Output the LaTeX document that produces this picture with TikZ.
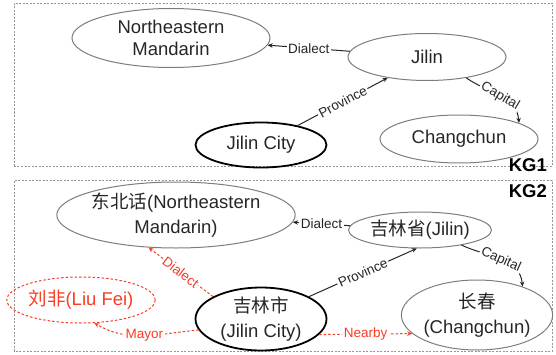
\documentclass[tikz,border=0pt]{standalone}
\usepackage{fontspec}
\setmainfont{Liberation Sans}
\newfontfamily\cjk{Noto Sans CJK SC}
\usetikzlibrary{shapes.geometric,arrows.meta}
\definecolor{linegray}{RGB}{125,125,125}
\definecolor{framegray}{RGB}{150,150,150}
\definecolor{alert}{RGB}{250,60,35}
\newcommand{\zh}[1]{{\cjk #1}}
\tikzstyle{entity}=[ellipse, draw=linegray, line width=1pt, inner sep=0pt, align=center, text=black!85, font=\fontsize{18.5}{22}\selectfont]
\tikzstyle{zhentity}=[entity, font=\fontsize{18.5}{25}\selectfont]
\tikzstyle{focus}=[line width=1.8pt, draw=black]
\tikzstyle{newentity}=[zhentity, draw=alert, text=alert, dash pattern=on 2.5pt off 2pt]
\tikzstyle{rel}=[-{Stealth[length=5pt,width=4.5pt]}, line width=1pt, black!85]
\tikzstyle{newrel}=[rel, alert, dash pattern=on 2.5pt off 2pt]
\tikzstyle{lbl}=[fill=white, inner sep=1.5pt, font=\fontsize{13.5}{15}\selectfont]
\tikzstyle{frame}=[framegray, dash pattern=on 2pt off 1.5pt, line width=0.8pt]
\tikzstyle{kg}=[anchor=base east, inner sep=0pt, font=\fontsize{18.5}{20}\selectfont\bfseries]

\begin{document}
\begin{tikzpicture}[x=1pt, y=1pt]
\useasboundingbox (0,0) rectangle (556,354);
% Frames
    \draw[frame] (14,188) rectangle (552,351);
    \draw[frame] (14,3) rectangle (552,174);
    \node[kg] (kgone) at (547,182.5) {KG1};
    \node[kg] (kgtwo) at (547,157) {KG2};
% KG1 entities
    \node[entity, minimum width=198, minimum height=59] (nmone) at (171,316) {Northeastern\\Mandarin};
    \node[entity, minimum width=158, minimum height=47] (jilinone) at (427,297) {Jilin};
    \node[entity, focus, minimum width=131, minimum height=45] (cityone) at (261,209) {Jilin City};
    \node[entity, minimum width=158, minimum height=48] (changone) at (459,215) {Changchun};
% KG1 relations
    \draw[rel] (jilinone) -- node[lbl] {Dialect} (nmone);
    \draw[rel] (cityone) -- node[lbl, sloped] {Province} (jilinone);
    \draw[rel] (jilinone.-28) to[out=-35, in=95] node[lbl, sloped] {Capital} (changone.15);
% KG2 entities
    \node[zhentity, minimum width=209, minimum height=66] (nmtwo) at (176,139) {\zh{东北话}(Northeastern\\Mandarin)};
    \node[zhentity, minimum width=143, minimum height=36] (jilintwo) at (420,124) {\zh{吉林省}(Jilin)};
    \node[zhentity, focus, minimum width=131, minimum height=62] (citytwo) at (261,35) {\zh{吉林市}\\(Jilin City)};
    \node[zhentity, minimum width=140, minimum height=70] (changtwo) at (477,39) {\zh{长春}\\(Changchun)};
    \node[newentity, minimum width=125, minimum height=46] (liu) at (81,54) {\zh{刘非}(Liu Fei)};
% KG2 relations
    \draw[rel] (jilintwo) -- node[lbl] {Dialect} (nmtwo);
    \draw[rel] (citytwo.25) -- node[lbl, sloped] {Province} (jilintwo.-100);
    \draw[rel] (jilintwo.-20) to[out=-25, in=95] node[lbl, sloped] {Capital} (changtwo.32);
% New links
    \draw[newrel] (citytwo.155) -- node[lbl, sloped] {Dialect} (nmtwo.-130);
    \draw[newrel] (citytwo.190) to[out=185, in=-30] node[lbl] {Mayor} (liu.-60);
    \draw[newrel] (citytwo.-15) -- node[lbl] {Nearby} (changtwo.196);
\end{tikzpicture}
\end{document}
